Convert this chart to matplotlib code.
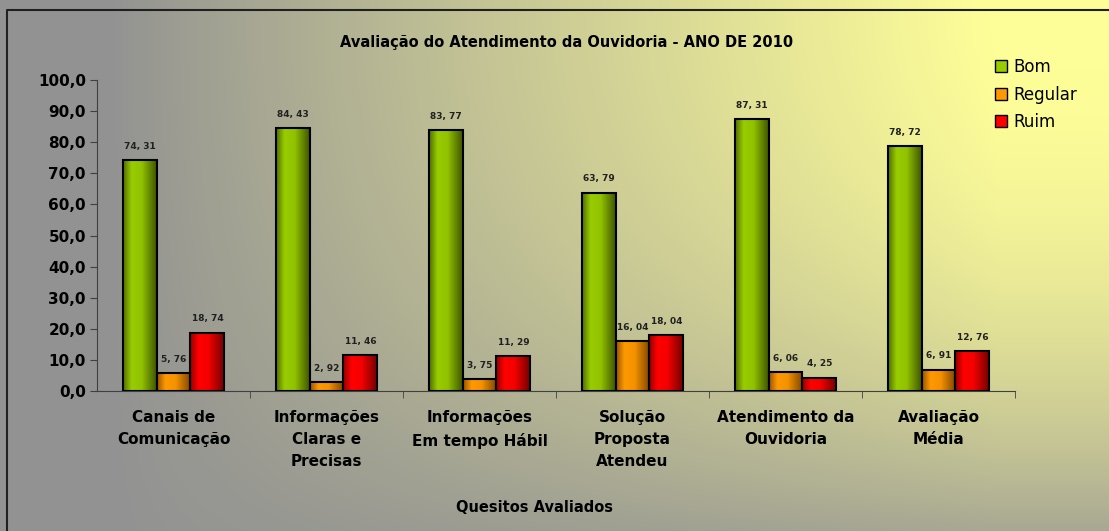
import numpy as np
import matplotlib
matplotlib.use("Agg")
from matplotlib import pyplot as plt
from matplotlib.colors import LinearSegmentedColormap
from matplotlib.lines import Line2D

categories = ["Canais de\nComunicação", "Informações\nClaras e\nPrecisas", "Informações\nEm tempo Hábil",
              "Solução\nProposta\nAtendeu", "Atendimento da\nOuvidoria", "Avaliação\nMédia"]
bom = [74.31, 84.43, 83.77, 63.79, 87.31, 78.72]
regular = [5.76, 2.92, 3.75, 16.04, 6.06, 6.91]
ruim = [18.74, 11.46, 11.29, 18.04, 4.25, 12.76]
series_names = ["Bom", "Regular", "Ruim"]
colors = ["#99cc00", "#ff9900", "#ff0000"]
dark = ["#3a5000", "#7a4200", "#700000"]

plt.rcParams['font.family'] = ['DejaVu Sans']

fig = plt.figure(figsize=(11.09, 5.31), dpi=100)

# background gradient: grey on the left and bottom, yellow towards the top right
bg = fig.add_axes([0, 0, 1, 1], zorder=-10)
h, w = 531, 1109
yy, xx = np.mgrid[0:h, 0:w]
hx = np.clip((xx / w - 0.1) / 0.8, 0, 1) ** 0.9
hy = np.clip(1 - 0.8 * (yy / h) ** 2.2, 0, 1)
s = hx * hy
yellow = np.array([255, 255, 153]) / 255
grey = np.array([146, 146, 146]) / 255
img_bg = grey[None, None, :] * (1 - s[..., None]) + yellow[None, None, :] * s[..., None]
bg.imshow(img_bg, extent=[0, w, h, 0], aspect="auto")
bg.set_xlim(0, w)
bg.set_ylim(h, 0)
bg.plot([7, 7, w + 5], [h + 5, 10, 10], color="#202020", lw=1.5)
bg.axis("off")

ax = fig.add_axes([97 / w, 140 / h, (1015 - 97) / w, (391 - 80) / h])
ax.patch.set_alpha(0)

x = np.arange(len(categories))
bw = 0.222
# horizontal shading across each bar: dark edges, bright left of centre
grad = np.linspace(0, 1, 64)
shade = np.interp(grad, [0, 0.25, 0.55, 1], [0.25, 1.0, 0.92, 0.05])[None, :]

for i, (vals_s, c) in enumerate(zip([bom, regular, ruim], colors)):
    off = (i - 1) * bw
    bars = ax.bar(x + off, vals_s, bw, facecolor="none", edgecolor="black", linewidth=1.5, zorder=3)
    cmap = LinearSegmentedColormap.from_list("shade", [dark[i], c], N=256)
    for b, v in zip(bars, vals_s):
        x0 = b.get_x()
        im = ax.imshow(shade, extent=[x0, x0 + bw, 0, v], aspect="auto", cmap=cmap,
                       vmin=0.0, vmax=1.0, interpolation="bilinear", zorder=2)
        im.set_clip_path(b)
        ax.text(x0 + bw / 2, v + 3.0, f"{v:.2f}".replace(".", ", "), ha="center", va="bottom",
                fontsize=6.5, fontweight="bold", color="#202020")

ax.set_xlim(-0.5, 5.5)
ax.set_ylim(0, 100)
ax.set_yticks(np.arange(0, 101, 10))
ax.set_yticklabels([f"{v:.1f}".replace(".", ",") for v in np.arange(0, 101, 10)],
                   fontsize=11, fontweight="bold")
ax.set_xticks(x)
ax.set_xticklabels(categories, fontsize=11, fontweight="bold", linespacing=1.55)
ax.set_xticks(np.arange(0.5, 6, 1), minor=True)
ax.tick_params(axis="x", which="major", length=0, pad=14)
ax.tick_params(axis="x", which="minor", length=5, direction="out", color="#404040")
ax.tick_params(axis="y", length=5, direction="out", color="#404040", pad=3)
for sp in ["top", "right"]:
    ax.spines[sp].set_visible(False)
ax.spines["left"].set_color("#404040")
ax.spines["bottom"].set_color("#404040")

fig.text(567 / w, 1 - 43 / h, "Avaliação do Atendimento da Ouvidoria - ANO DE 2010",
         ha="center", va="center", fontsize=10.5, fontweight="bold")
fig.text(535 / w, 1 - 508 / h, "Quesitos Avaliados", ha="center", va="center",
         fontsize=10.5, fontweight="bold")

handles = [Line2D([], [], marker="s", linestyle="", markersize=8, markerfacecolor=c,
                  markeredgecolor="black", markeredgewidth=1) for c in colors]
fig.legend(handles, series_names, loc="upper left", bbox_to_anchor=(985 / w, 1 - 50 / h),
           frameon=False, fontsize=12, handletextpad=0.3, labelspacing=0.55,
           handlelength=0.9, borderpad=0)

fig.savefig("out.png", dpi=100)
